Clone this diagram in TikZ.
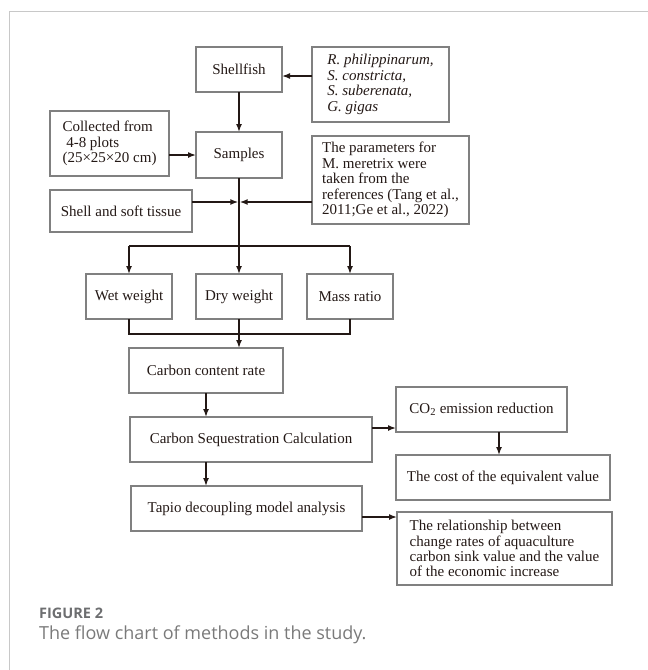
\documentclass[tikz,border=0pt]{standalone}
\usepackage{fontspec}
\setmainfont{Liberation Serif}
\newfontfamily\capfont{Open Sans}
\usetikzlibrary{arrows.meta,calc}
\definecolor{ink}{HTML}{231815}
\definecolor{boxline}{HTML}{808080}
\definecolor{framegray}{HTML}{C8C8C8}
\definecolor{capgray}{HTML}{6D6E70}
\definecolor{capgraylight}{HTML}{7A7A7A}
\tikzset{
  box/.style={draw=boxline, line width=1.1pt, inner sep=0pt, outer sep=0pt,
    text=ink, font=\fontsize{15}{15.6}\selectfont, align=center},
  boxl/.style={box, align=left},
  conn/.style={draw=ink, line width=1.5pt},
  arr/.style={conn, -{Latex[length=8pt,width=6pt]}},
}
\begin{document}
\begin{tikzpicture}[x=1pt,y=-1pt]
\useasboundingbox (0,0) rectangle (648,670);
% frame
\draw[framegray, line width=1.2pt] (9.5,670) -- (9.5,11.7) -- (648,11.7);
% boxes
\node[box, minimum width=86pt, minimum height=45pt] (shellfish) at (239,69.5) {Shellfish};
\node[boxl, minimum width=137pt, minimum height=75pt] (species) at (380.5,84.5)
  {\itshape R. philippinarum,\\\itshape S. constricta,\\\itshape S. suberenata,\\\itshape G. gigas};
\node[boxl, minimum width=119pt, minimum height=65pt] (collected) at (109.5,143.5)
  {Collected from\\\ 4-8 plots\\(25×25×20 cm)};
\node[box, minimum width=86pt, minimum height=46pt] (samples) at (239,155) {Samples};
\node[boxl, minimum width=157pt, minimum height=88pt] (params) at (390.5,180)
  {The parameters for\\M. meretrix were\\taken from the\\references (Tang et al.,\\2011;Ge et al., 2022)};
\node[box, minimum width=142pt, minimum height=42pt] (shell) at (121,211) {Shell and soft tissue};
\node[box, minimum width=86pt, minimum height=45pt] (wet) at (129,296.5) {Wet weight};
\node[box, minimum width=86pt, minimum height=45pt] (dry) at (239,296.5) {Dry weight};
\node[box, minimum width=86pt, minimum height=45pt] (mass) at (350,296.5) {Mass ratio};
\node[box, minimum width=154pt, minimum height=45pt] (ccr) at (206,370.5) {Carbon content rate};
\node[box, minimum width=242pt, minimum height=45pt] (csc) at (251,439.5) {Carbon Sequestration Calculation};
\node[box, minimum width=231pt, minimum height=45pt] (tapio) at (246.5,508.5) {Tapio decoupling model analysis};
\node[box, minimum width=171pt, minimum height=45pt] (co2) at (481.5,409.5) {CO\textsubscript{2} emission reduction};
\node[box, minimum width=214pt, minimum height=45pt] (cost) at (503,477.5) {The cost of the equivalent value};
\node[boxl, minimum width=215pt, minimum height=73pt, font=\fontsize{15}{15.2}\selectfont] (rel) at (504.5,548.5)
  {The relationship between\\change rates of aquaculture\\carbon sink value and the value\\of the economic increase};
% connectors
\draw[arr] ([yshift=8.5pt]species.west) -- ([yshift=8.5pt]species.west -| shellfish.east);
\draw[arr] (shellfish.south) -- (samples.north);
\draw[arr] (collected.east |- samples.west) -- (samples.west);
\coordinate (j) at (239,202);
\coordinate (b) at (239,246);
\coordinate (m) at (239,334);
\draw[conn] (samples.south) -- (b);
\draw[arr, shorten >=0.7pt] ([yshift=9pt]shell.east) -- (j);
\draw[arr, shorten >=0.7pt] ([yshift=-22pt]params.west) -- (j);
\draw[conn] (wet.north |- b) -- (mass.north |- b);
\draw[arr] (wet.north |- b) -- (wet.north);
\draw[arr] (b) -- (dry.north);
\draw[arr] (mass.north |- b) -- (mass.north);
\draw[conn] (wet.south) -- (wet.south |- m) -- (mass.south |- m) -- (mass.south);
\draw[conn] (dry.south) -- (m);
\draw[arr] (m) -- (m |- ccr.north);
\draw[arr] (ccr.south) -- (ccr.south |- csc.north);
\draw[arr] (ccr.south |- csc.south) -- (ccr.south |- tapio.north);
\draw[arr] ([yshift=11.5pt]csc.east) -- ([yshift=11.5pt]csc.east -| co2.west);
\draw[arr] ([xshift=17.5pt]co2.south) -- ([xshift=17.5pt]co2.south |- cost.north);
\draw[arr] ([yshift=-8.5pt]tapio.east) -- ([yshift=-8.5pt]tapio.east -| rel.west);
% caption
\node[anchor=base west, inner sep=0pt, text=capgray, font=\capfont\bfseries\fontsize{14.5}{16}\selectfont] (figlabel) at (39,618) {FIGURE 2};
\node[anchor=base west, inner sep=0pt, text=capgraylight, font=\capfont\fontsize{18}{20}\selectfont] (figcap) at (39,639) {The flow chart of methods in the study.};
\end{tikzpicture}
\end{document}
